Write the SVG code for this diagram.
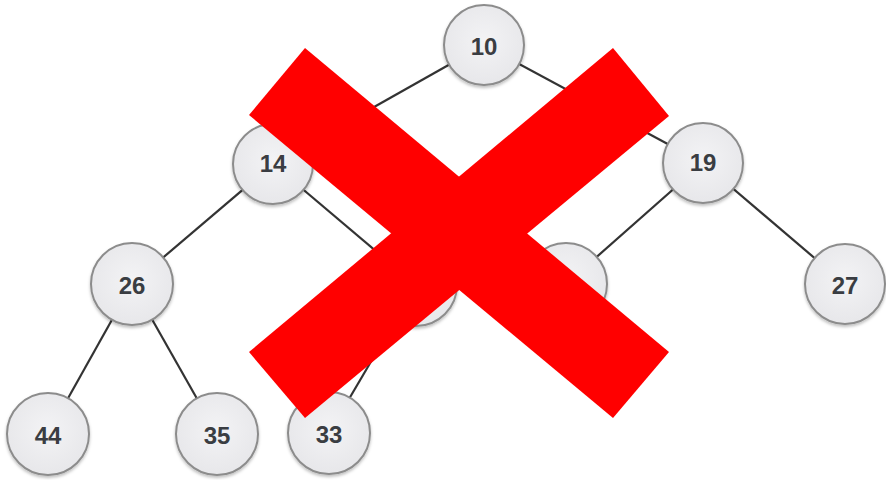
<svg xmlns="http://www.w3.org/2000/svg" width="886" height="480" viewBox="0 0 886 480">
<defs>
<radialGradient id="g" cx="50%" cy="45%" r="60%">
<stop offset="0%" stop-color="#f3f3f5"/>
<stop offset="100%" stop-color="#e6e6e9"/>
</radialGradient>
<filter id="sh" x="-20%" y="-20%" width="140%" height="150%">
<feDropShadow dx="0" dy="2" stdDeviation="1.5" flood-color="#000" flood-opacity="0.25"/>
</filter>
</defs>
<style>
.edge{stroke:#333333;stroke-width:2.2;fill:none}
.node circle{fill:url(#g);stroke:#8c8c8c;stroke-width:2;filter:url(#sh)}
.node text{font-family:"Liberation Sans",Arial,sans-serif;font-weight:bold;font-size:24px;fill:#3a3d42;text-anchor:middle;dominant-baseline:central}
.cross{fill:#ff0000}
</style>
<rect width="886" height="480" fill="#ffffff"/>
<g id="connectors">
<line class="edge" x1="484" y1="45" x2="273" y2="164"/>
<line class="edge" x1="484" y1="45" x2="703" y2="163"/>
<line class="edge" x1="273" y1="164" x2="132" y2="284"/>
<line class="edge" x1="273" y1="164" x2="416" y2="285"/>
<line class="edge" x1="703" y1="163" x2="566" y2="284"/>
<line class="edge" x1="703" y1="163" x2="845" y2="284"/>
<line class="edge" x1="132" y1="284" x2="48" y2="434"/>
<line class="edge" x1="132" y1="284" x2="217" y2="434"/>
<line class="edge" x1="416" y1="285" x2="329" y2="433"/>
</g>
<g id="n10" class="node"><circle cx="484" cy="45" r="40"/><text x="484" y="46">10</text></g>
<g id="n14" class="node"><circle cx="273" cy="164" r="40"/><text x="273" y="163">14</text></g>
<g id="n19" class="node"><circle cx="703" cy="163" r="40"/><text x="703" y="162">19</text></g>
<g id="n26" class="node"><circle cx="132" cy="284" r="41"/><text x="132" y="285">26</text></g>
<g id="nA" class="node"><circle cx="416" cy="285" r="41"/></g>
<g id="nB" class="node"><circle cx="566" cy="284" r="41"/></g>
<g id="n27" class="node"><circle cx="845" cy="284" r="40"/><text x="845" y="285">27</text></g>
<g id="n44" class="node"><circle cx="48" cy="434" r="41"/><text x="48" y="435">44</text></g>
<g id="n35" class="node"><circle cx="217" cy="434" r="41"/><text x="217" y="435">35</text></g>
<g id="n33" class="node"><circle cx="329" cy="433" r="41"/><text x="329" y="434">33</text></g>
<g id="cross">
<polygon class="cross" points="305,48 669,352 613,418 249,115"/>
<polygon class="cross" points="613,48 669,116 305,418 249,352"/>
</g>
</svg>
